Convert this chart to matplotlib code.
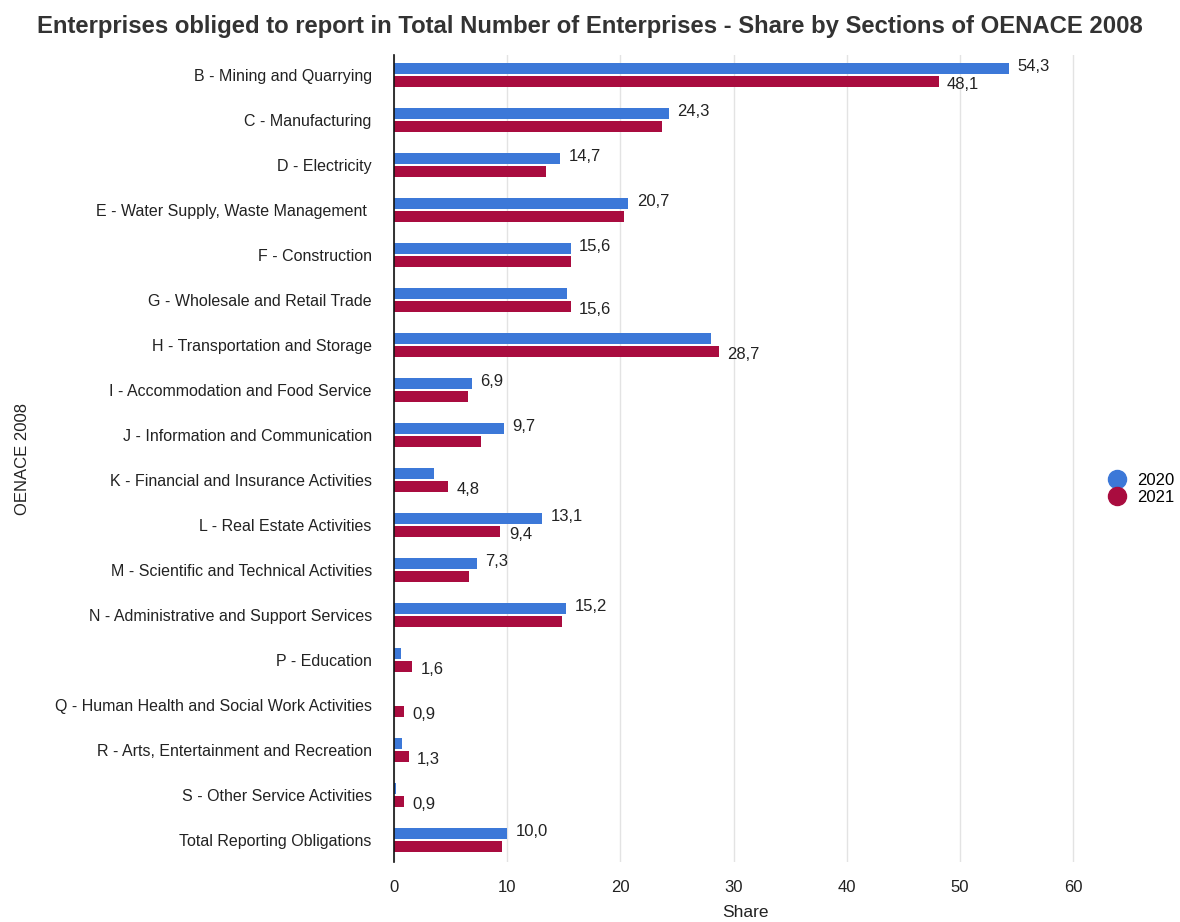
import matplotlib
matplotlib.use("Agg")
import matplotlib.pyplot as plt
from matplotlib.lines import Line2D
import numpy as np

plt.rcParams['font.family'] = ['Liberation Sans', 'DejaVu Sans']

categories = [
    "B - Mining and Quarrying",
    "C - Manufacturing",
    "D - Electricity",
    "E - Water Supply, Waste Management ",
    "F - Construction",
    "G - Wholesale and Retail Trade",
    "H - Transportation and Storage",
    "I - Accommodation and Food Service",
    "J - Information and Communication",
    "K - Financial and Insurance Activities",
    "L - Real Estate Activities",
    "M - Scientific and Technical Activities",
    "N - Administrative and Support Services",
    "P - Education",
    "Q - Human Health and Social Work Activities",
    "R - Arts, Entertainment and Recreation",
    "S - Other Service Activities",
    "Total Reporting Obligations",
]
values_2020 = [54.3, 24.3, 14.7, 20.7, 15.6, 15.3, 28.0, 6.9, 9.7, 3.5, 13.1, 7.3, 15.2, 0.6, 0.0, 0.7, 0.2, 10.0]
values_2021 = [48.1, 23.7, 13.4, 20.3, 15.6, 15.6, 28.7, 6.5, 7.7, 4.8, 9.4, 6.6, 14.8, 1.6, 0.9, 1.3, 0.9, 9.5]
show_2020 = [1, 1, 1, 1, 1, 0, 0, 1, 1, 0, 1, 1, 1, 0, 0, 0, 0, 1]
show_2021 = [1, 0, 0, 0, 0, 1, 1, 0, 0, 1, 1, 0, 0, 1, 1, 1, 1, 0]
series_names = ["2020", "2021"]
x_ticks = [0, 10, 20, 30, 40, 50, 60]

c2020 = "#3c78d8"
c2021 = "#a90c3f"
txt = "#222222"

fig = plt.figure(figsize=(11.8, 9.22), dpi=100)
ax = fig.add_axes([394/1180, 1-862/922, (1096-394)/1180, (862-55)/922])

y = np.arange(len(categories))
h = 0.245
off = 0.15
ax.barh(y - off, values_2020, height=h, color=c2020, zorder=3)
ax.barh(y + off, values_2021, height=h, color=c2021, zorder=3)

def fmt(v):
    return f"{v:.1f}".replace(".", ",")

for i in range(len(categories)):
    if show_2020[i]:
        ax.annotate(fmt(values_2020[i]), (values_2020[i], y[i] - off), xytext=(6, 1.5),
                    textcoords="offset points", va="center", ha="left", fontsize=12, color=txt)
    if show_2021[i]:
        ax.annotate(fmt(values_2021[i]), (values_2021[i], y[i] + off), xytext=(6, -2),
                    textcoords="offset points", va="center", ha="left", fontsize=12, color=txt)

ax.set_xlim(0, 62)
ax.set_ylim(17.49, -0.444)
ax.set_xticks(x_ticks)
ax.set_xticklabels([str(t) for t in x_ticks], fontsize=12, color=txt)
ax.set_yticks(y)
ax.set_yticklabels(categories, fontsize=11.5, color=txt)
ax.tick_params(axis="both", length=0)
ax.tick_params(axis="x", pad=13)
ax.tick_params(axis="y", pad=16)
ax.grid(axis="x", color="#e3e3e3", linewidth=1, zorder=0)
for s in ["top", "right", "bottom"]:
    ax.spines[s].set_visible(False)
ax.spines["left"].set_color("#111111")
ax.spines["left"].set_linewidth(1.2)
ax.spines["left"].set_zorder(4)

ax.set_xlabel("Share", fontsize=12.5, color=txt, labelpad=7)
ax.set_ylabel("OENACE 2008", fontsize=12, color=txt, labelpad=18)

fig.text(0.5, 1-26/922, "Enterprises obliged to report in Total Number of Enterprises - Share by Sections of OENACE 2008",
         ha="center", va="center", fontsize=17.2, fontweight="bold", color="#333333")

handles = [Line2D([0], [0], marker="o", linestyle="", markersize=13, color=c) for c in (c2020, c2021)]
fig.legend(handles, series_names, loc="center left", bbox_to_anchor=(1094/1180, 1-489/922),
           frameon=False, fontsize=12, handletextpad=0.2, labelspacing=0.1, borderaxespad=0)

fig.savefig("out.png", dpi=100)
